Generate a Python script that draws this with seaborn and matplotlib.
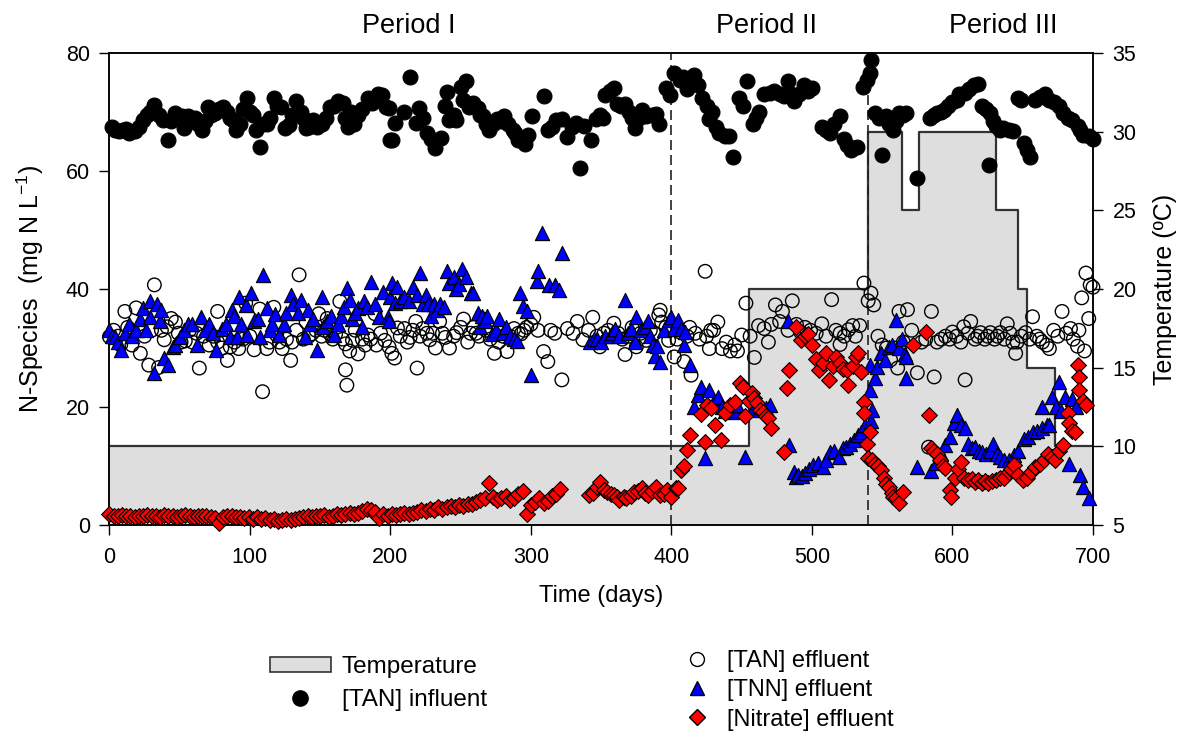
import numpy as np
import pandas as pd
import matplotlib
matplotlib.use("Agg")
import matplotlib.pyplot as plt
import seaborn as sns
from matplotlib.patches import Patch
from matplotlib.lines import Line2D

# ---------------- data ----------------
tan_inf_day = [1.6, 4, 7, 10, 12, 14, 18, 21, 24, 27, 29, 32, 35, 38, 42, 44, 47, 50, 52, 53, 56, 58, 61, 63, 66, 68, 70, 72,
               75, 78, 81, 84, 86, 88, 90, 93, 95, 98, 100, 102, 104, 107, 109, 112, 114, 117, 119, 122, 125, 128, 130, 133,
               136, 138, 140, 142, 145, 148, 151, 154, 157, 160, 163, 166, 168, 170, 172, 174, 177, 180, 184, 187, 191, 194,
               197, 199, 200, 201, 203, 210, 214, 218, 220, 223, 226, 229, 232, 236, 239, 240, 242, 245, 247, 250, 252, 254,
               256, 259, 262, 264, 266, 268, 270, 273, 276, 279, 281, 284, 287, 289, 291, 294, 296, 298, 301, 309, 312, 315,
               318, 322, 326, 329, 332, 335, 338, 343, 346, 349, 351, 353, 356, 359, 361, 364, 367, 370, 372, 374, 377, 379,
               382, 386, 389, 391, 396, 399, 402, 406, 408, 411, 413, 416, 419, 422, 425, 427, 429, 432, 434, 438, 441, 444,
               448, 451, 454, 458, 460, 462, 466, 470, 473, 477, 480, 483, 485, 487, 491, 494, 497, 500, 507, 510, 513, 516,
               520, 523, 525, 528, 532, 536, 539, 541, 542, 545, 548, 550, 553, 555, 558, 560, 562, 565, 567, 575, 584, 587,
               589, 592, 594, 597, 600, 603, 605, 609, 612, 615, 618, 621, 624, 626, 627, 629, 631, 634, 636, 640, 643, 647,
               649, 651, 653, 655, 659, 662, 666, 669, 672, 676, 679, 682, 685, 689, 691, 693, 697, 700]
tan_inf_val = [67.5, 67, 66.7, 67, 67.2, 66.5, 66.7, 67.5, 68.6, 69.5, 70, 71.2, 69.5, 68.6, 65.3, 68.5, 69.8, 68.8, 69.4, 67.3,
               69.3, 68.5, 69, 68, 67, 68.5, 70.9, 69.5, 69.8, 70.5, 70.9, 70, 69, 68.6, 67, 68, 70.5, 72.4, 70, 69.5, 67,
               64.1, 68, 68, 69, 72.4, 71, 70.9, 67.3, 67.8, 69.5, 71.9, 70, 69, 67.3, 67.5, 68.6, 67.5, 68, 69, 70.9, 71,
               71.9, 71.5, 69, 67.5, 70, 68, 69.5, 70.5, 72.4, 71.5, 73, 72.9, 70.9, 70.7, 65.3, 65.3, 68.1, 70, 75.9, 68.2,
               70.6, 69, 66.4, 65.5, 63.9, 65.6, 71, 73.4, 68.6, 69.5, 68.6, 74.2, 72, 75.3, 70.9, 71.5, 70.7, 69.5, 69.3,
               68, 67, 68, 68.8, 68.5, 69.4, 68, 67, 66.5, 65.3, 65.5, 64.6, 66.1, 69.4, 72.7, 67, 67.5, 68.6, 68.8, 65.8,
               67.5, 68.1, 60.5, 67.6, 65.3, 68.8, 69.5, 69, 72.9, 73.5, 74, 71.3, 71, 71.3, 70, 69, 67.3, 69, 70.4, 69.3,
               69.5, 69.6, 67.9, 74, 72.9, 76.6, 75.5, 75.9, 73.9, 75, 76.2, 74.5, 72.3, 71, 68.8, 70, 67.5, 66.5, 66, 65.9,
               62.4, 72.3, 71, 75.2, 67.9, 69, 70, 73, 73.2, 73.6, 73, 72.7, 75.2, 73, 71.9, 73, 74.5, 73.5, 74, 67.5, 67,
               66.4, 68, 69.3, 65.5, 64.4, 63.5, 64.1, 74.2, 75.5, 76.6, 78.8, 69.8, 69, 62.7, 69.3, 68, 67, 68.5, 69.8,
               69.5, 69.8, 58.8, 69, 69.5, 69.8, 70, 70.4, 71, 71.7, 72, 73, 73.2, 73.9, 74.5, 74.8, 71, 70.5, 61, 69.8,
               68.5, 67.6, 67, 67.3, 67, 66.7, 72.4, 72, 64.7, 63.5, 62.4, 72, 72.5, 73, 72, 71.7, 71, 69.8, 69, 68.6,
               67.6, 67, 66.1, 66, 65.5]

tan_eff_day = [0, 3, 6, 8, 11, 13, 16, 19, 22, 25, 28, 30, 32, 35, 37, 39, 41, 44, 47, 49, 51, 54, 57, 59, 62, 64, 67, 71,
               74, 77, 77, 80, 84, 86, 89, 92, 95, 97, 100, 103, 107, 109, 112, 114, 117, 119, 121, 123, 126, 129, 130,
               133, 135, 138, 140, 142, 144, 147, 149, 151, 153, 155, 157, 159, 161, 164, 166, 168, 168, 169, 171, 173,
               175, 177, 180, 182, 184, 186, 189, 190, 193, 196, 199, 201, 203, 205, 207, 210, 212, 214, 216, 218, 219,
               221, 223, 226, 228, 230, 232, 235, 237, 239, 242, 245, 247, 250, 252, 255, 257, 259, 261, 263, 266, 268,
               271, 274, 277, 280, 283, 285, 288, 291, 293, 295, 297, 300, 302, 305, 309, 312, 314, 317, 322, 326, 330,
               333, 337, 341, 344, 347, 349, 352, 355, 359, 362, 365, 367, 370, 372, 375, 378, 382, 385, 388, 391, 392,
               393, 396, 398, 400, 402, 404, 406, 409, 411, 413, 414, 417, 420, 424, 425, 427, 428, 430, 433, 436, 439,
               442, 445, 447, 450, 453, 456, 459, 462, 466, 469, 471, 474, 477, 479, 483, 486, 489, 492, 495, 499, 503,
               507, 510, 514, 517, 520, 520, 523, 526, 529, 531, 534, 537, 540, 542, 544, 547, 550, 553, 556, 559, 561,
               562, 565, 568, 571, 575, 578, 581, 583, 585, 587, 589, 592, 595, 598, 600, 603, 606, 608, 609, 611, 613,
               616, 618, 620, 623, 625, 627, 630, 632, 634, 637, 639, 641, 643, 645, 646, 649, 652, 655, 657, 660, 662,
               664, 667, 669, 672, 675, 678, 681, 684, 686, 689, 690, 692, 694, 695, 697, 698, 700]
tan_eff_val = [31.9, 33, 32, 30.5, 36.2, 33.5, 30.5, 36.8, 29.1, 32, 27.1, 33, 40.7, 26.7, 33, 31.4, 33.6, 35, 34.4, 32.5,
               31, 31.2, 33, 31, 32.5, 26.6, 32, 30.5, 32, 36.2, 31, 30, 27.9, 30.2, 31, 29.9, 31.5, 37.6, 32, 29.7, 36.6,
               22.6, 29.9, 31, 36.9, 32.2, 31, 29.9, 31.5, 27.9, 31, 33, 42.4, 31.5, 34.4, 32, 32.4, 33, 35.8, 32, 33, 35,
               32.4, 31.5, 32.4, 37.9, 31.5, 30.7, 26.3, 23.7, 29.5, 31.3, 33, 29, 31.5, 30.5, 32.2, 31.5, 35.8, 30.5,
               32.5, 31.3, 30.2, 29.1, 28.3, 33.4, 32, 33.3, 31, 31.8, 33, 34.5, 26.6, 32, 33.3, 32.5, 31.4, 32.5, 30,
               34.5, 32.5, 31.8, 30, 32, 32.6, 33.5, 34.9, 31, 32.5, 33.5, 32.5, 32, 34.9, 33, 31.5, 29.1, 31, 32, 29.4,
               32, 33.3, 32.5, 32.4, 33, 33.5, 34, 35.2, 33, 29.4, 27.7, 33, 32.5, 24.6, 33.3, 32.5, 34.5, 31.4, 33, 35.2,
               32, 30.2, 32.5, 33, 34.2, 32.5, 31.5, 28.9, 32, 33.5, 30.2, 32.5, 31.3, 33, 32.5, 35.6, 36.4, 34.4, 33.5,
               31.3, 33.8, 28.5, 31.5, 32.7, 27.7, 32, 33.5, 25.4, 32.5, 31.5, 43, 32, 29.9, 33, 33, 34.4, 29.9, 31, 29.5,
               30.5, 29.5, 32.2, 37.6, 32, 28.4, 33.8, 33.3, 31, 34, 37.3, 34.5, 36.2, 33, 38, 34, 32.7, 33.5, 33, 32.5,
               34.1, 32, 38.2, 33, 32.5, 30.6, 32, 33.1, 33.8, 32, 33.8, 41, 38, 39.3, 37.3, 32, 30.5, 30, 28, 30, 26.6,
               36.2, 31, 36.5, 33, 25.8, 31, 31.5, 13.2, 36.2, 25.1, 31, 31.5, 32, 31.5, 32.7, 32, 31, 33.6, 24.6, 32.5,
               34.5, 31.5, 32, 32.6, 31.5, 32, 32.6, 31.5, 32, 32.6, 31.5, 34.1, 32.5, 31, 29.1, 31, 32, 32.6, 31.5, 35.3,
               32, 31.5, 31, 30.5, 29.9, 33, 32, 36.2, 32.5, 33.3, 31.5, 30.3, 33, 38.5, 29.5, 42.7, 35, 40.7, 40.3]

tnn_day = [0, 2, 4, 6, 8, 11, 14, 16, 19, 22, 24, 26, 29, 29, 32, 34, 36, 37, 39, 42, 45, 47, 50, 53, 56, 59, 62, 65, 68,
           71, 74, 76, 80, 83, 87, 86, 89, 92, 91, 94, 97, 98, 101, 103, 106, 109, 107, 112, 114, 116, 118, 121, 124, 126,
           129, 131, 134, 136, 139, 141, 143, 145, 148, 151, 152, 155, 158, 160, 163, 165, 167, 169, 171, 173, 175, 177,
           180, 181, 183, 186, 189, 192, 195, 198, 199, 200, 201, 203, 205, 207, 210, 213, 216, 219, 221, 223, 225, 227,
           229, 231, 233, 235, 238, 240, 242, 245, 247, 249, 251, 254, 257, 259, 262, 264, 265, 267, 269, 272, 275, 277,
           280, 282, 285, 288, 290, 292, 294, 297, 300, 304, 305, 308, 313, 317, 320, 322, 342, 345, 347, 350, 353, 356,
           358, 360, 363, 367, 369, 371, 374, 375, 378, 381, 383, 385, 387, 388, 390, 392, 395, 398, 400, 402, 405, 407,
           409, 410, 413, 416, 419, 421, 424, 427, 430, 433, 436, 438, 441, 443, 445, 447, 452, 458, 463, 467, 470, 483,
           484, 487, 489, 490, 493, 495, 498, 501, 504, 508, 510, 513, 516, 519, 522, 524, 527, 530, 533, 535, 538, 542,
           541, 541, 543, 545, 546, 549, 552, 555, 557, 560, 562, 564, 566, 567, 567, 575, 585, 588, 592, 595, 598, 601,
           603, 606, 609, 611, 614, 616, 619, 621, 624, 627, 629, 632, 634, 637, 640, 644, 647, 651, 654, 657, 660, 664,
           664, 667, 669, 671, 674, 676, 677, 680, 683, 685, 688, 691, 693, 697]
tnn_val = [33, 32, 31.8, 31, 29.7, 32.5, 34, 32, 33.1, 35, 36.7, 33, 37.9, 35.3, 25.8, 37.5, 34.5, 36.4, 28.3, 27.2, 30.1,
           30.5, 31.8, 33, 34, 34, 30.5, 35.3, 33, 34, 32.5, 29.7, 33.3, 34, 36.4, 31.8, 35.5, 38.7, 31.8, 34, 37.3, 32.2,
           39.3, 34.5, 35, 42.4, 31.8, 36.7, 33, 34, 35.8, 32.2, 34, 36, 39, 37.5, 36, 38.2, 31.8, 36.4, 34, 35, 29.7,
           38.7, 33.5, 34.5, 35.5, 32.2, 34, 35.5, 37, 40.2, 38.2, 35, 36, 36.7, 33.5, 38, 37, 41.2, 37.5, 35.3, 39.5,
           35.3, 34.6, 38.6, 41, 37.6, 40.4, 38, 38.6, 38, 40.4, 38.9, 42.7, 37.5, 38.9, 37.5, 35.5, 37.4, 36.5, 37.4,
           37, 43.1, 41, 42, 40, 40.8, 43.4, 42, 39.3, 39.3, 36, 33.5, 35.5, 34.5, 35.5, 32.4, 33, 34.9, 32.5, 33.5,
           32.1, 31.5, 31.2, 39.3, 37.1, 36.2, 25.4, 41.4, 43.1, 49.5, 40.7, 40.7, 39.9, 46.1, 31, 31.5, 31.6, 31, 32,
           32.1, 32.5, 33.3, 32, 38.1, 32.5, 33.3, 31, 35.2, 33, 33.5, 34.5, 32, 30.5, 28.7, 30.4, 27.6, 33, 34.8, 35.3,
           33.3, 34.8, 33.3, 30.5, 32.7, 27.1, 20, 22, 23.4, 11.3, 22.8, 21, 21.7, 20, 19.4, 20, 19.2, 19.5, 20.3, 11.5,
           19.5, 20, 19.8, 20.3, 34.5, 13.6, 9, 8.2, 8.5, 8.3, 8.8, 9.5, 10.1, 10.5, 9.8, 11, 12.4, 12.5, 11.6, 13,
           13.3, 13.8, 14.4, 15.2, 15.8, 17, 17.7, 22.9, 27.1, 19.5, 24.9, 26.8, 29.1, 28, 30.2, 30.5, 34.7, 30, 31.6,
           29, 28.5, 24.9, 9.8, 9.2, 10.5, 12.1, 13.5, 14.9, 17.3, 18.6, 17, 16.4, 13.8, 13, 13.3, 12.5, 12.4, 12,
           12.5, 13.8, 12.1, 11.5, 11, 11, 11.8, 12.5, 14.6, 15, 15.8, 16, 16.4, 20, 17, 16.9, 21.7, 20, 24.3, 19.4,
           21.7, 10.4, 21.4, 20, 8.5, 6.5, 4.6]

nit_day = [0, 3, 6, 9, 12, 15, 18, 21, 24, 27, 30, 33, 36, 39, 42, 45, 48, 51, 54, 57, 60, 63, 66, 69, 72, 75, 78, 81,
           84, 87, 90, 93, 96, 99, 102, 105, 108, 111, 114, 117, 120, 123, 126, 129, 132, 135, 138, 141, 144, 147, 150,
           153, 156, 159, 162, 165, 168, 171, 174, 177, 180, 183, 186, 189, 192, 195, 198, 201, 204, 207, 210, 213, 216,
           219, 222, 225, 228, 231, 234, 237, 240, 243, 246, 249, 252, 255, 258, 261, 264, 267, 270, 273, 276, 279, 282,
           285, 288, 291, 294, 297, 300, 303, 306, 309, 312, 315, 318, 321, 341, 344, 347, 349, 352, 354, 357, 359, 361,
           363, 366, 368, 371, 373, 376, 379, 381, 383, 386, 389, 392, 395, 397, 400, 403, 405, 407, 409, 411, 413, 421,
           424, 425, 428, 431, 435, 438, 442, 445, 449, 451, 452, 455, 457, 459, 461, 463, 465, 467, 469, 471, 480, 482,
           484, 489, 492, 495, 497, 500, 503, 505, 508, 510, 512, 515, 517, 520, 522, 525, 526, 529, 531, 533, 535, 537,
           537, 539, 540, 541, 543, 545, 547, 549, 551, 553, 555, 557, 558, 560, 562, 565, 572, 581, 583, 585, 587, 589,
           591, 593, 595, 598, 599, 602, 604, 606, 608, 611, 614, 616, 618, 621, 623, 625, 628, 631, 634, 637, 640, 642,
           644, 647, 650, 653, 656, 659, 662, 665, 668, 671, 673, 676, 679, 682, 683, 685, 687, 689, 690, 690, 693, 695]
nit_val = [1.8, 1.6, 1.5, 1.7, 1.5, 1.6, 1.4, 1.6, 1.5, 1.7, 1.5, 1.6, 1.4, 1.7, 1.5, 1.6, 1.4, 1.5, 1.7, 1.5, 1.4, 1.6,
           1.5, 1.6, 1.4, 1.2, 0.4, 1.3, 1.5, 1.6, 1.4, 1.3, 1.2, 1.4, 1.1, 1.3, 1.0, 1.2, 0.9, 1.0, 0.7, 0.9, 1.0, 0.8,
           1.1, 1.2, 1.3, 1.5, 1.4, 1.6, 1.5, 1.7, 1.4, 1.6, 1.8, 1.7, 1.9, 2.0, 1.8, 2.1, 2.4, 2.8, 2.5, 2.2, 1.2, 1.8,
           1.6, 1.9, 1.7, 1.9, 2.0, 1.8, 2.0, 2.2, 2.5, 2.4, 2.8, 2.6, 3.0, 2.8, 3.1, 3.3, 3.0, 3.4, 3.2, 3.6, 3.5, 3.9,
           4.2, 4.6, 7.1, 4.8, 4.2, 4.6, 4.9, 4.3, 4.5, 5.3, 5.8, 1.8, 3.4, 3.9, 4.6, 3.8, 4.0, 5.0, 5.3, 6.1, 5.1, 5.5,
           6.5, 7.3, 6.0, 5.6, 5.3, 5.1, 4.8, 4.2, 4.8, 4.5, 5.0, 5.6, 5.8, 6.2, 5.5, 5.1, 5.8, 6.5, 5.1, 5.3, 6.0, 4.8,
           6.2, 6.3, 9.3, 10.0, 12.7, 15.3, 18.9, 14.1, 20.3, 19.8, 17.0, 14.4, 19.0, 20.3, 20.9, 24.0, 23.4, 18.4,
           21.0, 22.3, 21.5, 20.6, 19.5, 19.2, 18.5, 18.1, 16.4, 12.4, 23.2, 26.3, 33.6, 31.3, 32.0, 32.4, 30.5, 28.2,
           26.3, 27.5, 29.1, 24.6, 27.0, 28.5, 27.4, 26.5, 26.3, 23.8, 27.0, 28.5, 29.1, 26.0, 20.9, 19.0, 13.8, 11.3,
           15.8, 11.0, 10.4, 10.0, 9.3, 7.9, 7.0, 6.5, 5.5, 4.8, 4.5, 3.7, 5.6, 30.5, 32.7, 18.6, 13.0, 12.5, 12.1,
           11.0, 10.0, 9.6, 6.0, 4.8, 8.0, 9.5, 10.7, 8.0, 7.6, 7.8, 7.3, 7.6, 7.2, 7.5, 7.1, 7.4, 7.6, 8.0, 7.9, 9.0,
           9.5, 10.1, 8.5, 7.6, 8.0, 9.0, 9.8, 10.4, 11.0, 12.1, 11.5, 11.0, 12.5, 13.6, 19.0, 17.3, 16.0, 15.8, 27.1,
           25.1, 22.9, 21.0, 20.3]

temp_day = [0, 455, 540, 564, 576, 631, 647, 653, 673, 700]
temp_val = [10, 20, 30, 25, 30, 25, 20, 15, 10, 10]

period_labels = ["Period I", "Period II", "Period III"]
period_centers = [213, 468, 636]
period_bounds = [400, 540]

x_ticks = [0, 100, 200, 300, 400, 500, 600, 700]
y_ticks = [0, 20, 40, 60, 80]
t_ticks = [5, 10, 15, 20, 25, 30, 35]

# ---------------- style ----------------
sns.set_style("ticks")
NARROW = ['Liberation Sans Narrow', 'Liberation Sans', 'DejaVu Sans']
REG = ['Liberation Sans', 'DejaVu Sans']
plt.rcParams['font.family'] = NARROW
plt.rcParams['mathtext.fontset'] = 'custom'
plt.rcParams['mathtext.rm'] = 'Liberation Sans'
plt.rcParams['mathtext.it'] = 'Liberation Sans'
for k in ['text.color', 'axes.labelcolor', 'xtick.color', 'ytick.color', 'axes.edgecolor']:
    plt.rcParams[k] = 'black'

fig = plt.figure(figsize=(11.88, 7.4), dpi=100)
ax = fig.add_axes([0.0921, 0.2905, 0.8279, 0.6379])
ax2 = ax.twinx()

# temperature (right axis, behind)
ax2.fill_between(temp_day, 5, temp_val, step='post', facecolor='#DEDEDE', edgecolor='none', zorder=1)
ax2.step(temp_day, temp_val, where='post', color='#333333', lw=1.6, zorder=2)
ax2.set_ylim(5, 35)
ax2.set_yticks(t_ticks)
ax2.set_ylabel("Temperature (ºC)", fontsize=18, labelpad=12, family=REG)

ax.set_zorder(ax2.get_zorder() + 1)
ax.patch.set_visible(False)

df_te = pd.DataFrame({"day": tan_eff_day, "val": tan_eff_val})
df_tnn = pd.DataFrame({"day": tnn_day, "val": tnn_val})
df_nit = pd.DataFrame({"day": nit_day, "val": nit_val})
df_ti = pd.DataFrame({"day": tan_inf_day, "val": tan_inf_val})

sns.scatterplot(data=df_te, x="day", y="val", ax=ax, marker="o", s=95, facecolor="none",
                edgecolor="black", linewidth=1.0, clip_on=False, zorder=3)
sns.scatterplot(data=df_tnn, x="day", y="val", ax=ax, marker="^", s=105, color="#0000FF",
                edgecolor="black", linewidth=0.8, clip_on=False, zorder=4)
sns.scatterplot(data=df_nit, x="day", y="val", ax=ax, marker="D", s=65, color="#FF0000",
                edgecolor="black", linewidth=0.8, clip_on=False, zorder=5)
sns.scatterplot(data=df_ti, x="day", y="val", ax=ax, marker="o", s=115, color="black",
                edgecolor="black", linewidth=0.8, clip_on=False, zorder=6)

for b in period_bounds:
    ax.axvline(b, color="#222222", lw=1.2, dashes=(6, 3), zorder=2)

for lab, c in zip(period_labels, period_centers):
    ax.text(c, 1.058, lab, transform=ax.get_xaxis_transform(), ha="center", va="center", fontsize=19.5)

ax.set_xlim(0, 700)
ax.set_ylim(0, 80)
ax.set_xticks(x_ticks)
ax.set_yticks(y_ticks)
ax.set_xlabel("Time (days)", fontsize=17, labelpad=12)
ax.set_ylabel(r"N-Species  (mg N L$^{\mathregular{-1}}$)", fontsize=18, labelpad=14, family=REG)

for a in (ax, ax2):
    a.tick_params(direction="out", length=7, width=1.0, labelsize=15.5, color="black", pad=7)
    for sp in a.spines.values():
        sp.set_visible(True)
        sp.set_linewidth(1.1)
        sp.set_color("black")
ax.tick_params(axis='x', pad=9)

# legends
h_left = [Patch(facecolor='#DEDEDE', edgecolor='#333333', linewidth=1.2),
          Line2D([], [], marker='o', ls='none', color='black', markersize=11)]
leg1 = fig.legend(h_left, ["Temperature", "[TAN] influent"], loc="upper left",
                  bbox_to_anchor=(0.2273, 0.1135), frameon=False, fontsize=17.5,
                  handlelength=2.5, handleheight=0.6, handletextpad=0.45, labelspacing=0.45,
                  borderpad=0, borderaxespad=0)
h_right = [Line2D([], [], marker='o', ls='none', markerfacecolor='white', markeredgecolor='black', markersize=10),
           Line2D([], [], marker='^', ls='none', markerfacecolor='#0000FF', markeredgecolor='black', markersize=10),
           Line2D([], [], marker='D', ls='none', markerfacecolor='#FF0000', markeredgecolor='black', markersize=8)]
leg2 = fig.legend(h_right, ["[TAN] effluent", "[TNN] effluent", "[Nitrate] effluent"], loc="upper left",
                  bbox_to_anchor=(0.578, 0.1216), frameon=False, fontsize=17,
                  handlelength=0.9, handletextpad=0.8, labelspacing=0.31,
                  borderpad=0, borderaxespad=0)

fig.savefig("out.png", dpi=100)
